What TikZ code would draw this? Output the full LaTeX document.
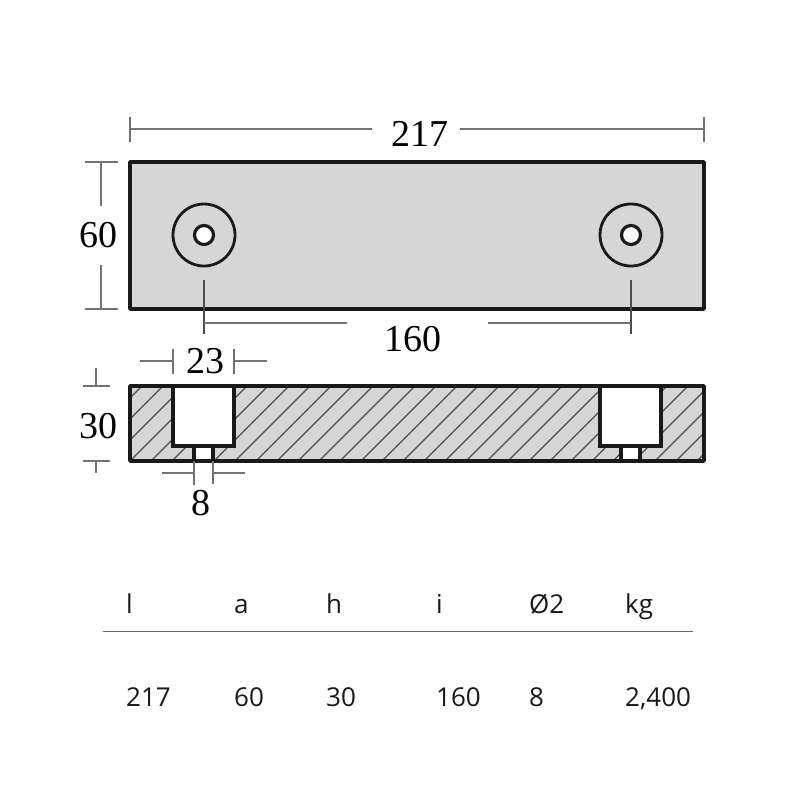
\documentclass[tikz,border=0pt]{standalone}
\usepackage{fontspec}
\setmainfont{Liberation Serif}
\newfontfamily\tablefont{Open Sans}
\tikzset{
	part/.style={line width=3.4pt, draw=black!90, line join=round},
	bore/.style={line width=3.2pt, draw=black!90, fill=white},
	dim/.style={line width=1.5pt, draw=black!55},
	size/.style={font=\fontsize{38}{38}\selectfont, text=black, inner sep=0pt},
	cell/.style={font=\tablefont\fontsize{26}{26}\selectfont, text=black!90, anchor=base west, inner sep=0pt},
}
\begin{document}
\begin{tikzpicture}[x=1pt, y=-1pt]
		\useasboundingbox (0, 0) rectangle (803, 803);
		
		%%%%% TOP VIEW %%%%%
		\draw[part, fill=black!16] (130, 162) rectangle (704, 309);
		\foreach \cx in {204, 631} {
			\draw[line width=2.8pt, draw=black!90] (\cx, 235) circle (31);
			\draw[bore] (\cx, 235) circle (9.5);
			\draw[dim, draw=black!70] (\cx, 280) -- (\cx, 334);
		}
		
		%%%%% SECTION %%%%%
		\fill[black!16] (130, 386) rectangle (704, 461);
		\begin{scope}
			\clip (130, 386) rectangle (704, 461);
			\foreach \hx in {-4, -3, ..., 28}
				\draw[line width=1.1pt, black!70] (130 + 21*\hx, 461) -- ++(85, -85);
		\end{scope}
		\draw[part] (130, 386) rectangle (704, 461);
		\foreach \px in {173, 600} {
			\draw[bore] (\px, 386) rectangle ++(61, 60);
			\draw[bore] (\px + 21, 446) rectangle ++(19, 15);
		}
		
		%%%%% DIMENSIONS %%%%%
		\node[size] (total) at (420, 134) {217};
		\draw[dim] (130, 117) -- (130, 142);
		\draw[dim] (704, 117) -- (704, 142);
		\coordinate (totalL) at (130, 129);
		\coordinate (totalR) at (704, 129);
		\draw[dim] (totalL) -- (372, 129);
		\draw[dim] (460, 129) -- (totalR);
		
		\node[size] (height) at (98, 235) {60};
		\draw[dim] (85, 162) -- (118, 162);
		\draw[dim] (85, 309) -- (118, 309);
		\draw[dim] (101, 162) -- (101, 206);
		\draw[dim] (101, 265) -- (101, 309);
		
		\node[size] (pitch) at (413, 339) {160};
		\draw[dim] (204, 323) -- (347, 323);
		\draw[dim] (488, 323) -- (631, 323);
		
		\node[size] (pocket) at (205, 361) {23};
		\draw[dim] (173, 349) -- (173, 374);
		\draw[dim] (234, 349) -- (234, 374);
		\draw[dim] (140, 361) -- (173, 361);
		\draw[dim] (234, 361) -- (267, 361);
		
		\node[size] (thick) at (98, 426) {30};
		\draw[dim] (83, 386) -- (110, 386);
		\draw[dim] (83, 461) -- (110, 461);
		\draw[dim] (96, 368) -- (96, 386);
		\draw[dim] (96, 461) -- (96, 473);
		
		\node[size] (hole) at (201, 503) {8};
		\draw[dim] (194, 461) -- (194, 485);
		\draw[dim] (213, 461) -- (213, 484);
		\draw[dim] (162, 473) -- (194, 473);
		\draw[dim] (213, 473) -- (245, 473);
		
		%%%%% TABLE %%%%%
		\foreach \tx/\thead/\tval [count=\ti] in {126/l/217, 234/a/60, 326/h/30, 436/i/160, 529/Ø2/8, 625/kg/{2,400}} {
			\node[cell] (head\ti) at (\tx, 613) {\thead};
			\node[cell] (val\ti) at (\tx, 706) {\tval};
		}
		\draw[line width=0.8pt, black!60] (103, 631) -- (693, 631);
		
		%%%%% END %%%%%
	\end{tikzpicture}
\end{document}
